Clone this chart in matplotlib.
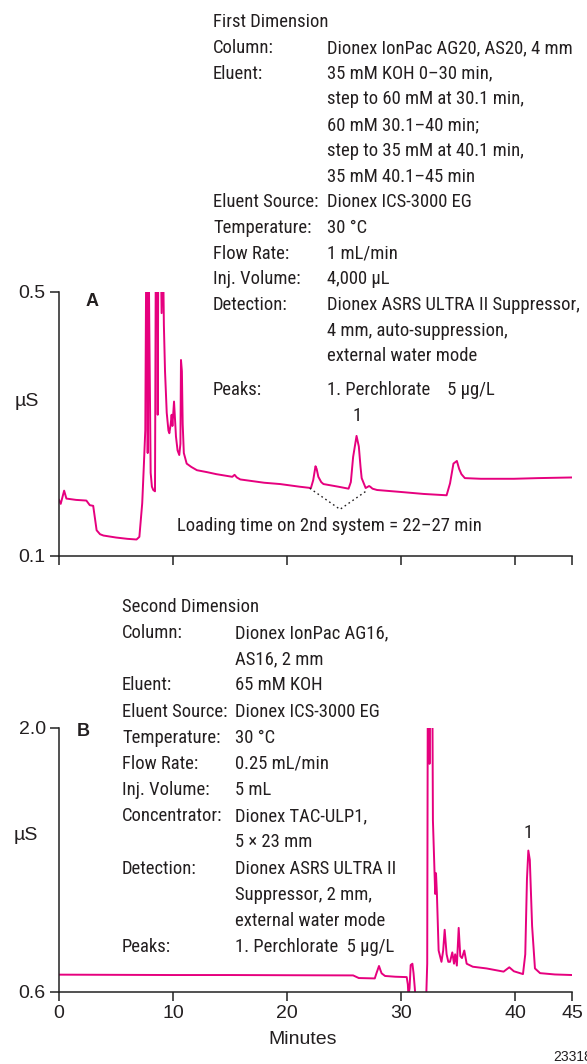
import matplotlib
matplotlib.use("Agg")
import matplotlib.pyplot as plt
from matplotlib import font_manager
from matplotlib.font_manager import FontProperties

# first dimension trace (minutes, uS)
top_t = [0.0, 0.15, 0.45, 0.65, 1.5, 2.4, 2.7, 3.0, 3.3, 3.6, 3.9, 5.0, 6.0, 6.8, 7.05, 7.3,
         7.45, 7.57, 7.65, 7.72, 7.78, 7.85, 7.92, 8.04, 8.15, 8.27, 8.42, 8.5, 8.62, 8.66,
         8.72, 8.9, 9.0, 9.1, 9.2, 9.3, 9.45, 9.6, 9.68, 9.8, 9.88, 9.95, 10.09, 10.2, 10.26,
         10.4, 10.55, 10.65, 10.7, 10.78, 10.85, 10.95, 11.2, 11.6, 12.1, 13.0, 13.8, 15.2,
         15.4, 15.6, 15.9, 18.0, 19.4, 21.1, 22.1, 22.3, 22.5, 22.6, 22.75, 23.0, 23.2, 24.5,
         25.4, 25.6, 25.8, 26.1, 26.3, 26.45, 26.55, 26.9, 27.2, 27.3, 27.5, 27.9, 30.0, 32.0,
         34.0, 34.3, 34.6, 34.9, 35.1, 35.3, 35.6, 37.0, 39.9, 42.0, 45.0]
top_y = [0.185, 0.179, 0.199, 0.187, 0.185, 0.184, 0.177, 0.176, 0.139, 0.133, 0.131, 0.128,
         0.126, 0.125, 0.129, 0.180, 0.240, 0.291, 0.55, 0.6, 0.256, 0.6, 0.45, 0.226, 0.205,
         0.200, 0.198, 0.6, 0.6, 0.314, 0.6, 0.6, 0.468, 0.6, 0.45, 0.38, 0.317, 0.29, 0.286,
         0.30, 0.314, 0.297, 0.334, 0.30, 0.281, 0.26, 0.253, 0.27, 0.397, 0.38, 0.30, 0.256,
         0.240, 0.235, 0.230, 0.227, 0.224, 0.220, 0.223, 0.219, 0.216, 0.211, 0.209, 0.205,
         0.203, 0.215, 0.236, 0.232, 0.220, 0.212, 0.209, 0.205, 0.202, 0.212, 0.250, 0.282,
         0.266, 0.235, 0.218, 0.203, 0.206, 0.205, 0.202, 0.200, 0.197, 0.194, 0.192, 0.210,
         0.240, 0.244, 0.232, 0.224, 0.218, 0.217, 0.217, 0.218, 0.219]

# second dimension trace
bot_t = [0, 5, 10, 15, 20, 25.8, 26.3, 27.7, 27.85, 28.07, 28.2, 28.3, 28.6, 29.5, 30.5, 30.6,
         30.65, 30.75, 30.85, 31.0, 31.1, 31.2, 31.3, 32.2, 32.3, 32.35, 32.45, 32.5, 32.55,
         32.75, 32.8, 33.0, 33.07, 33.15, 33.3, 33.55, 33.7, 33.83, 34.0, 34.15, 34.3, 34.5,
         34.65, 34.75, 34.9, 35.06, 35.2, 35.35, 35.55, 35.76, 36.3, 37.5, 39.0, 39.5, 39.9,
         40.7, 40.9, 41.05, 41.17, 41.3, 41.5, 41.75, 42.2, 43.5, 45.0]
bot_y = [0.692, 0.691, 0.690, 0.690, 0.689, 0.688, 0.674, 0.672, 0.700, 0.738, 0.715, 0.699,
         0.685, 0.681, 0.679, 0.640, 0.58, 0.62, 0.743, 0.750, 0.700, 0.628, 0.55, 0.55, 0.75,
         2.2, 2.2, 1.81, 2.2, 2.2, 1.51, 1.12, 1.23, 1.12, 0.82, 0.76, 0.82, 0.93, 0.80, 0.76,
         0.76, 0.81, 0.75, 0.80, 0.74, 0.94, 0.79, 0.78, 0.82, 0.75, 0.734, 0.725, 0.708,
         0.731, 0.71, 0.695, 0.80, 1.20, 1.35, 1.30, 0.95, 0.725, 0.70, 0.693, 0.69]

x_ticks = [0, 10, 20, 30, 40, 45]
top_yticks = [0.1, 0.5]
bot_yticks = [0.6, 2.0]
load_t = [22.0, 24.65, 27.0]
load_y = [0.2026, 0.1707, 0.199]

top_labels = ["Column:", "Eluent:", "", "", "", "", "Eluent Source:", "Temperature:",
              "Flow Rate:", "Inj. Volume:", "Detection:", "", ""]
top_values = ["Dionex IonPac AG20, AS20, 4 mm", "35 mM KOH 0\u201330 min,",
              "step to 60 mM at 30.1 min,", "60 mM 30.1\u201340 min;",
              "step to 35 mM at 40.1 min,", "35 mM 40.1\u201345 min",
              "Dionex ICS-3000 EG", "30 \u00b0C", "1 mL/min", "4,000 \u00b5L",
              "Dionex ASRS ULTRA II Suppressor,", "4 mm, auto-suppression,",
              "external water mode"]
bot_labels = ["Column:", "", "Eluent:", "Eluent Source:", "Temperature:", "Flow Rate:",
              "Inj. Volume:", "Concentrator:", "", "Detection:", "", ""]
bot_values = ["Dionex IonPac AG16,", "AS16, 2 mm", "65 mM KOH", "Dionex ICS-3000 EG",
              "30 \u00b0C", "0.25 mL/min", "5 mL", "Dionex TAC-ULP1,", "5 \u00d7 23 mm",
              "Dionex ASRS ULTRA II", "Suppressor, 2 mm,", "external water mode"]

PINK = "#e6007e"
TXT = "#231f20"
REG = ["Liberation Sans", "DejaVu Sans"]
plt.rcParams['font.family'] = REG

# look for a condensed regular face (the original uses Helvetica Condensed)
narrow_path = None
for pref in ["Liberation Sans Narrow", "Roboto", "Noto Sans", "Open Sans", "DejaVu Sans", ""]:
    for f in font_manager.fontManager.ttflist:
        if (f.stretch in ("condensed", "semi-condensed") or "Narrow" in f.name or "Condensed" in f.name) \
                and f.style == "normal" and f.weight in (400, "normal", "regular") \
                and f.name.startswith(pref):
            narrow_path = f.fname
            break
    if narrow_path:
        break
NARROW = FontProperties(fname=narrow_path) if narrow_path else FontProperties(family=REG)

W, H = 587, 1064
fig = plt.figure(figsize=(W / 100, H / 100), dpi=100)
renderer = fig.canvas.get_renderer()


def fx(px):
    return px / W


def fy(py):
    return 1 - py / H


# size the condensed text so its widest line spans what it does in the original
probe = fig.text(0, 0, "Dionex ASRS ULTRA II Suppressor,", fontproperties=NARROW, fontsize=14)
probe_w = probe.get_window_extent(renderer).width
probe.remove()
FS = min(15.0, max(10.5, 14 * 254 / probe_w))


def ntext(px, py, s, **kw):
    fig.text(fx(px), fy(py), s, ha=kw.pop("ha", "left"), va="center", fontproperties=NARROW,
             fontsize=kw.pop("fontsize", FS), color=TXT, **kw)


def style_axes(ax, yticks, ylim, show_xlabels):
    ax.set_xlim(0, 45)
    ax.set_ylim(*ylim)
    for s in ["top", "right"]:
        ax.spines[s].set_visible(False)
    for s in ["left", "bottom"]:
        ax.spines[s].set_linewidth(1.1)
        ax.spines[s].set_color("#222222")
    ax.set_xticks(x_ticks)
    ax.set_yticks(yticks)
    ax.set_yticklabels([f"{v:.1f}" for v in yticks])
    ax.tick_params(axis="both", direction="out", length=6.5, width=1.1, color="#222222",
                   labelsize=14, labelcolor=TXT, pad=3)
    if not show_xlabels:
        ax.tick_params(axis="x", labelbottom=False)
    ax.patch.set_alpha(0)


ax1 = fig.add_axes([fx(59), fy(556), fx(572) - fx(59), fy(292) - fy(556)])
ax1.plot(top_t, top_y, color=PINK, lw=1.4, solid_joinstyle="round")
ax1.plot(load_t, load_y, color=TXT, lw=1.0, ls=(0, (1.2, 2.2)))
style_axes(ax1, top_yticks, (0.1, 0.5), False)

ax2 = fig.add_axes([fx(59), fy(992), fx(572) - fx(59), fy(728) - fy(992)])
ax2.plot(bot_t, bot_y, color=PINK, lw=1.4, solid_joinstyle="round")
style_axes(ax2, bot_yticks, (0.6, 2.0), True)

# peak labels
ntext(357, 416, "1", ha="center")
ntext(528, 833, "1", ha="center")

# panel letters and units
fig.text(fx(92), fy(302), "A", ha="center", va="center", fontsize=13, weight="bold", color=TXT)
fig.text(fx(83), fy(731), "B", ha="center", va="center", fontsize=13, weight="bold", color=TXT)
fig.text(fx(27), fy(402), "\u00b5S", ha="center", va="center", fontsize=14, color=TXT)
fig.text(fx(26), fy(835), "\u00b5S", ha="center", va="center", fontsize=14, color=TXT)
fig.text(fx(303), fy(1040), "Minutes", ha="center", va="center", fontsize=14, color=TXT)
fig.text(fx(553), fy(1057), "23318", ha="left", va="center", fontsize=10, color=TXT)
ntext(177, 526, "Loading time on 2nd system = 22\u201327 min")

# condition blocks
step = 25.7
ntext(213, 22, "First Dimension")
for i, (lab, val) in enumerate(zip(top_labels, top_values)):
    y = 48 + i * step
    if lab:
        ntext(213, y, lab)
    ntext(327, y, val)
ntext(213, 390, "Peaks:")
ntext(327, 390, "1. Perchlorate    5 \u00b5g/L")

step2 = 26.15
ntext(122, 607, "Second Dimension")
for i, (lab, val) in enumerate(zip(bot_labels, bot_values)):
    y = 607 + (i + 1) * step2
    if lab:
        ntext(122, y, lab)
    ntext(235, y, val)
ntext(122, 947, "Peaks:")
ntext(235, 947, "1. Perchlorate  5 \u00b5g/L")

fig.savefig("out.png", dpi=100)
